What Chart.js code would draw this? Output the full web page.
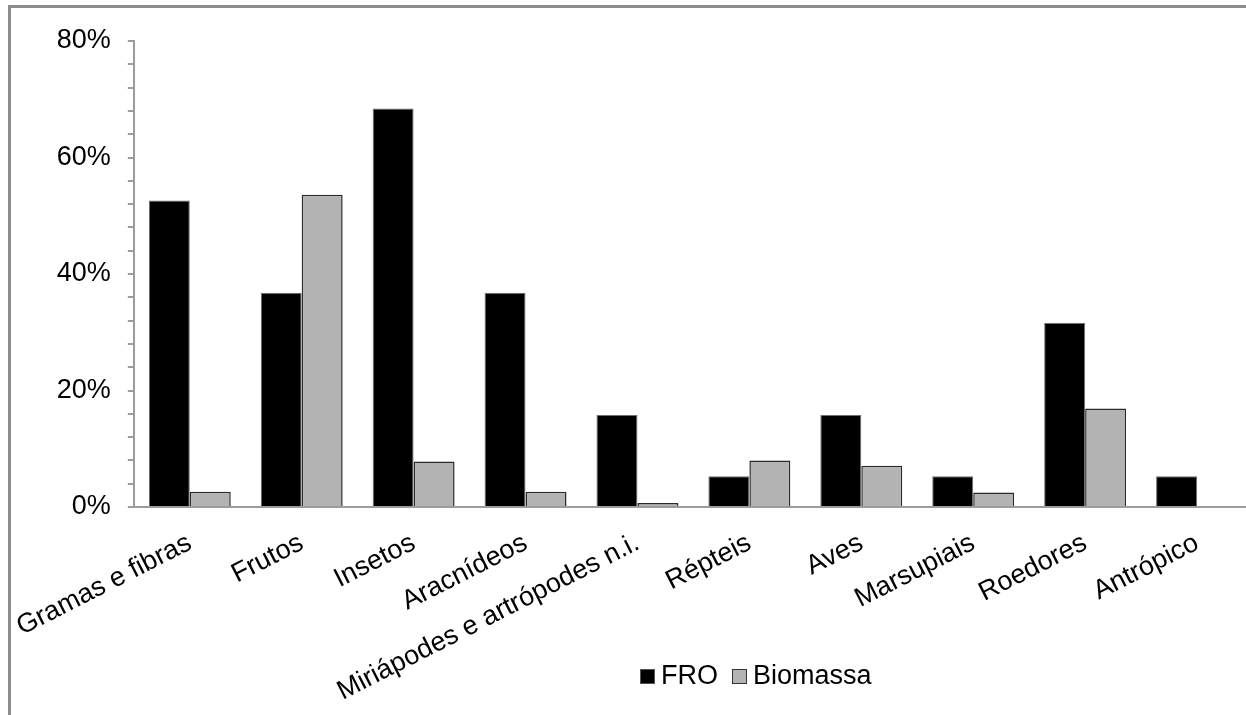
<!DOCTYPE html>
<html lang="pt">
<head>
<meta charset="utf-8">
<title>FRO e Biomassa por categoria alimentar</title>
<script src="https://cdn.jsdelivr.net/npm/chart.js@4/dist/chart.umd.min.js"></script>
<style>
  html, body { margin: 0; padding: 0; background: #fff; overflow: hidden; }
  body { width: 1246px; height: 715px; position: relative; font-family: "Liberation Sans", Arial, sans-serif; }
  #frame {
    position: absolute; left: 8px; top: 5px; width: 1400px; height: 800px;
    border-left: 3px solid #8c8c8c; border-top: 3px solid #8c8c8c;
    box-sizing: border-box;
  }
  #wrap { position: absolute; left: 0; top: 0; width: 1300px; height: 715px; }
  #legend {
    position: absolute; left: 640px; top: 658px; height: 34px;
    display: flex; align-items: center; font-size: 27px; color: #000;
    white-space: nowrap;
  }
  #legend .item { display: flex; align-items: center; margin-right: 14px; }
  #legend .box { width: 15px; height: 15px; box-sizing: border-box; margin-right: 6px; margin-top: 2px; }
</style>
</head>
<body>
<div id="frame"></div>
<div id="wrap"><canvas id="chart"></canvas></div>
<div id="legend"></div>
<script>
// Categorias alimentares
const categories = [
  'Gramas e fibras', 'Frutos', 'Insetos', 'Aracnídeos',
  'Miriápodes e artrópodes n.i.', 'Répteis', 'Aves', 'Marsupiais',
  'Roedores', 'Antrópico'
];

// Frequência relativa de ocorrência (%)
const froValues = [52.6, 36.8, 68.4, 36.8, 15.8, 5.3, 15.8, 5.3, 31.6, 5.3];

// Biomassa consumida (%)
const biomassaValues = [2.6, 53.6, 7.8, 2.6, 0.7, 8.0, 7.1, 2.5, 16.9, null];

// Rótulos do eixo Y
const yTickLabels = ['0%', '20%', '40%', '60%', '80%'];

const FONT = '"Liberation Sans", Arial, sans-serif';

const chart = new Chart(document.getElementById('chart'), {
  type: 'bar',
  data: {
    labels: categories,
    datasets: [
      {
        label: 'FRO',
        data: froValues,
        backgroundColor: '#000000',
        borderColor: '#6e6e6e',
        borderWidth: 1,
        categoryPercentage: 0.732,
        barPercentage: 1.0
      },
      {
        label: 'Biomassa',
        data: biomassaValues,
        backgroundColor: '#b3b3b3',
        borderColor: '#2a2a2a',
        borderWidth: 1.5,
        categoryPercentage: 0.732,
        barPercentage: 1.0
      }
    ]
  },
  options: {
    responsive: true,
    maintainAspectRatio: false,
    animation: false,
    layout: { padding: { top: 41, right: 47, bottom: 8, left: 0 } },
    plugins: {
      tooltip: { enabled: false },
      legend: { display: false }
    },
    scales: {
      x: {
        grid: { display: false },
        border: { display: true, color: '#9c9c9c', width: 2 },
        ticks: {
          font: { family: FONT, size: 27 },
          color: '#000',
          minRotation: 27,
          maxRotation: 27,
          autoSkip: false,
          padding: 12
        },
        afterFit(scale) { scale.height = 200; }
      },
      y: {
        min: 0,
        max: 80,
        grid: {
          drawOnChartArea: false,
          drawTicks: true,
          tickLength: 6,
          color: '#9c9c9c',
          lineWidth: 2
        },
        border: { display: true, color: '#9c9c9c', width: 2 },
        ticks: {
          stepSize: 4,
          autoSkip: false,
          font: { family: FONT, size: 27 },
          color: '#000',
          padding: 17,
          callback(value) {
            return value % 20 === 0 ? yTickLabels[value / 20] : '';
          }
        },
        afterFit(scale) { scale.width = 133; }
      }
    }
  }
});

// Legenda construída a partir das séries do gráfico
const legendEl = document.getElementById('legend');
chart.data.datasets.forEach(ds => {
  const item = document.createElement('span');
  item.className = 'item';
  const box = document.createElement('span');
  box.className = 'box';
  box.style.background = ds.backgroundColor;
  box.style.border = '1px solid ' + (ds.label === 'FRO' ? '#555' : '#333');
  const txt = document.createElement('span');
  txt.textContent = ds.label;
  item.appendChild(box);
  item.appendChild(txt);
  legendEl.appendChild(item);
});
</script>
</body>
</html>
